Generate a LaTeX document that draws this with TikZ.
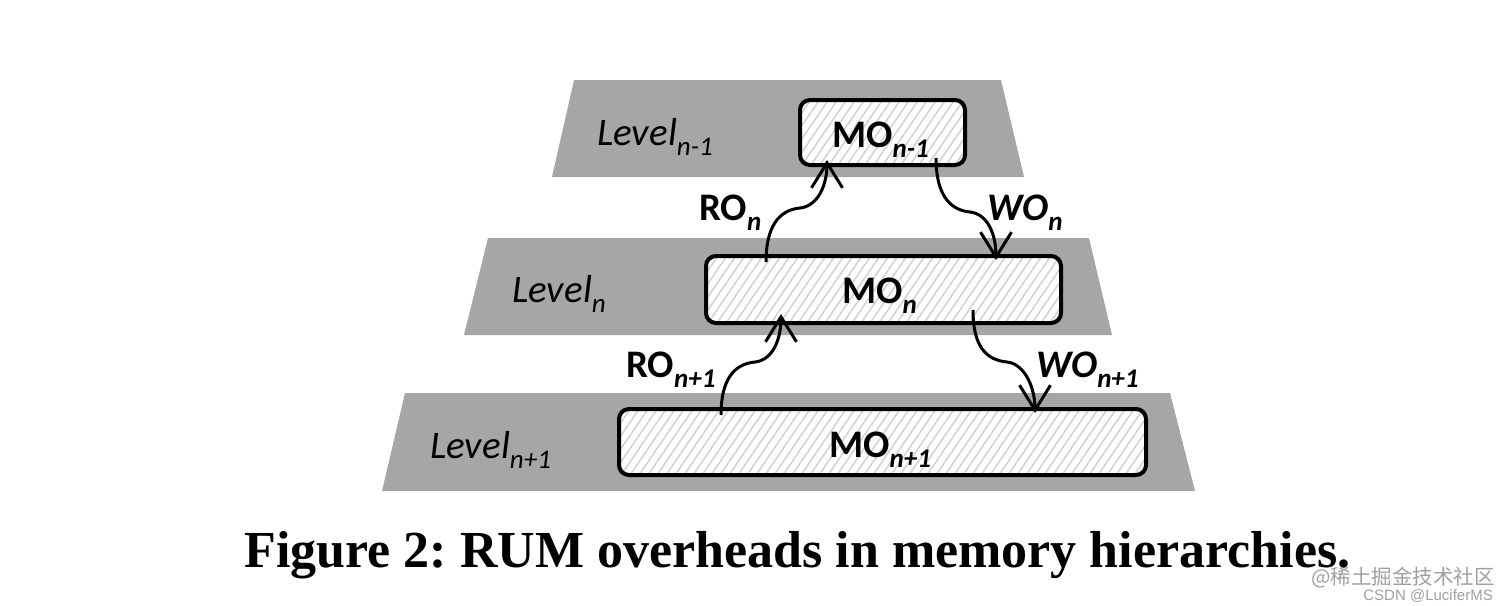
\documentclass[tikz,border=0pt]{standalone}
\usepackage{fontspec}
\setmainfont{Carlito}
\newfontfamily\capfont{Liberation Serif}
\newfontfamily\cjkfont{Noto Sans CJK SC}
\newfontfamily\wmfont{Liberation Sans}
\usetikzlibrary{arrows.meta,calc}
\definecolor{levelgray}{RGB}{166,166,166}
\definecolor{hatchgray}{RGB}{212,212,212}
\definecolor{wmgray}{RGB}{160,160,160}
\frenchspacing
\newcommand\mysub[1]{\raisebox{-10pt}{\fontsize{27}{27}\selectfont\itshape #1}}
\tikzset{
  level/.style={fill=levelgray, draw=none},
  mobox/.style={draw=black, line width=4pt, rounded corners=10pt, fill=white,
    inner sep=0pt,
    path picture={
      \foreach \k in {-70,-61,...,560} {
        \draw[hatchgray, line width=1.6pt]
          ([xshift=\k pt]path picture bounding box.south west) -- ++(52pt,76pt);
      }
    }},
  lvltext/.style={anchor=base west, inner sep=0pt, font=\fontsize{39}{39}\selectfont\itshape},
  motext/.style={anchor=base west, inner sep=0pt, font=\fontsize{39}{39}\selectfont\bfseries},
  rotext/.style={anchor=base west, inner sep=0pt, font=\fontsize{39}{39}\selectfont\bfseries},
  wotext/.style={anchor=base west, inner sep=0pt, font=\fontsize{39}{39}\selectfont\bfseries\itshape},
  flow/.style={line width=3pt, -{Straight Barb[length=25pt,width=31pt,line width=3pt]}},
}
\begin{document}
\begin{tikzpicture}[x=1pt,y=-1pt]
\useasboundingbox (0,0) rectangle (1512,605);
% level trapezoids
\path[level] (574,80) -- (1001,80) -- (1024,177) -- (552,177) -- cycle;
\path[level] (488,238) -- (1089,238) -- (1112,335) -- (464,335) -- cycle;
\path[level] (405,393) -- (1170,393) -- (1195,491) -- (382,491) -- cycle;
% memory boxes
\node[mobox, minimum width=165pt, minimum height=65pt] (m1) at (882.5,132.5) {};
\node[mobox, minimum width=355pt, minimum height=67pt] (m2) at (883.5,289.5) {};
\node[mobox, minimum width=527pt, minimum height=66pt] (m3) at (882.5,442) {};
% level labels
\node[lvltext] (l1) at (597,145) {Level\mysub{n-1}};
\node[lvltext] (l2) at (512,302) {Level\mysub{n}};
\node[lvltext] (l3) at (430,458) {Level\mysub{n+1}};
% MO labels
\node[motext] (t1) at (832,147) {MO\mysub{n-1}};
\node[motext] (t2) at (842,303) {MO\mysub{n}};
\node[motext] (t3) at (829,457) {MO\mysub{n+1}};
% RO / WO labels
\node[rotext] (r1) at (699,220) {RO\mysub{n}};
\node[wotext] (w1) at (987,220) {WO\mysub{n}};
\node[rotext] (r2) at (626,377) {RO\mysub{n+1}};
\node[wotext] (w2) at (1036,377) {WO\mysub{n+1}};
% connector end points
\coordinate (ro1s) at (766,262);
\coordinate (ro1m) at (800,208);
\coordinate (ro1e) at (827,160);
\coordinate (wo1s) at (936,158);
\coordinate (wo1m) at (970,212);
\coordinate (wo1e) at (996,260);
\coordinate (ro2s) at (721,415);
\coordinate (ro2m) at (755,362);
\coordinate (ro2e) at (781,314);
\coordinate (wo2s) at (973,310);
\coordinate (wo2m) at (1007,362);
\coordinate (wo2e) at (1035,413);
% connectors
\draw[flow] (ro1s) .. controls (766,228) and (778,210) .. (ro1m)
  .. controls (818,206) and (827,185) .. (ro1e);
\draw[flow] (wo1s) .. controls (936,192) and (948,210) .. (wo1m)
  .. controls (988,214) and (996,235) .. (wo1e);
\draw[flow] (ro2s) .. controls (721,381) and (733,364) .. (ro2m)
  .. controls (773,360) and (781,339) .. (ro2e);
\draw[flow] (wo2s) .. controls (973,345) and (985,360) .. (wo2m)
  .. controls (1025,364) and (1035,388) .. (wo2e);
% caption
\node[anchor=base, inner sep=0pt, font=\capfont\fontsize{52}{52}\selectfont\bfseries] (cap) at (797.5,567)
  {Figure 2: RUM overheads in memory hierarchies.};
% watermark
\node[anchor=base east, inner sep=0pt, text=wmgray, font=\cjkfont\fontsize{20.5}{20.5}\selectfont] (wm1) at (1495,584) {@稀土掘金技术社区};
\node[anchor=base east, inner sep=0pt, text=wmgray, font=\wmfont\fontsize{15}{15}\selectfont] (wm2) at (1493,600) {CSDN @LuciferMS};
\end{tikzpicture}
\end{document}
